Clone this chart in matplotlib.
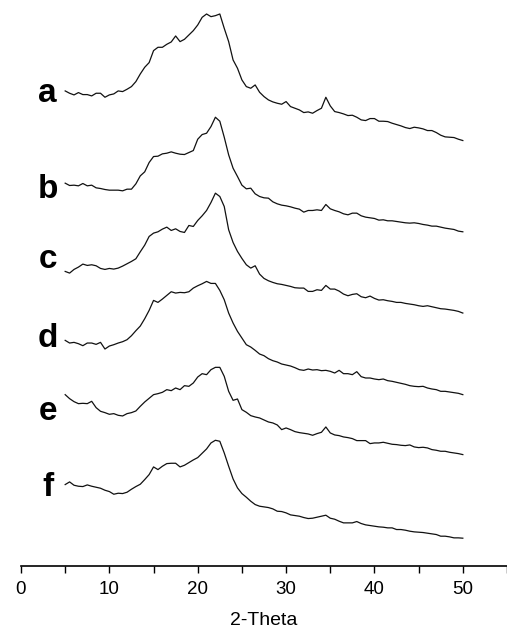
import numpy as np
import matplotlib
matplotlib.use("Agg")
from matplotlib import pyplot as plt

plt.rcParams['font.family'] = ['Liberation Sans', 'DejaVu Sans']

# 2-theta sampling, 5..50 deg every 0.5 deg
two_theta = np.arange(5, 50.01, 0.5)

# intensities (arbitrary units)
int_a = [167, 160, 155, 162, 156, 156, 152, 160, 160, 148,
         155, 158, 167, 165, 172, 180, 195, 218, 238, 252,
         288, 298, 298, 307, 314, 332, 315, 322, 335, 348,
         365, 388, 398, 390, 393, 398, 355, 315, 260, 235,
         200, 180, 175, 185, 163, 150, 140, 134, 130, 127,
         135, 120, 115, 110, 102, 104, 100, 108, 115, 148,
         122, 105, 102, 98, 93, 94, 88, 80, 78, 84,
         84, 76, 76, 75, 70, 66, 62, 57, 54, 58,
         56, 53, 48, 48, 42, 34, 29, 28, 27, 22,
         18]
int_b = [160, 153, 154, 152, 159, 152, 154, 146, 144, 141,
         139, 139, 139, 137, 142, 142, 158, 182, 194, 222,
         240, 241, 248, 250, 254, 250, 247, 246, 252, 258,
         292, 306, 310, 330, 358, 346, 298, 245, 205, 180,
         154, 143, 145, 128, 120, 116, 115, 104, 98, 94,
         92, 89, 85, 82, 73, 78, 78, 80, 78, 96,
         83, 78, 74, 68, 65, 70, 70, 62, 58, 56,
         54, 49, 50, 47, 47, 45, 43, 41, 40, 41,
         39, 36, 34, 31, 31, 28, 25, 23, 21, 16,
         14]
int_c = [145, 140, 151, 158, 167, 163, 165, 162, 154, 151,
         154, 152, 155, 161, 168, 175, 183, 204, 224, 250,
         260, 264, 272, 278, 268, 273, 265, 262, 283, 280,
         298, 312, 328, 352, 380, 370, 340, 270, 232, 205,
         184, 165, 155, 162, 137, 124, 117, 112, 108, 106,
         103, 100, 96, 95, 95, 85, 85, 90, 88, 103,
         92, 92, 86, 77, 72, 76, 78, 69, 66, 71,
         64, 59, 60, 57, 55, 52, 52, 49, 47, 45,
         42, 40, 42, 39, 36, 33, 32, 30, 28, 25,
         20]
int_d = [178, 170, 172, 168, 162, 170, 170, 166, 172, 152,
         161, 165, 170, 174, 180, 192, 207, 221, 243, 268,
         298, 292, 302, 313, 324, 320, 322, 321, 324, 335,
         342, 348, 355, 349, 349, 328, 300, 260, 230, 205,
         185, 165, 158, 148, 137, 132, 123, 117, 113, 107,
         104, 101, 96, 90, 88, 92, 89, 90, 87, 88,
         85, 80, 88, 78, 78, 75, 84, 69, 65, 65,
         62, 60, 62, 57, 55, 52, 49, 46, 42, 40,
         39, 40, 35, 32, 30, 25, 25, 23, 21, 19,
         15]
int_e = [195, 183, 174, 168, 169, 168, 175, 156, 145, 141,
         136, 138, 133, 131, 138, 141, 146, 160, 173, 184,
         195, 198, 202, 210, 207, 215, 210, 222, 220, 230,
         248, 258, 255, 270, 277, 277, 250, 205, 178, 182,
         150, 142, 132, 128, 125, 119, 113, 110, 104, 90,
         95, 90, 84, 81, 79, 77, 73, 78, 82, 98,
         80, 74, 72, 68, 66, 63, 57, 57, 57, 48,
         50, 50, 52, 49, 46, 45, 43, 42, 44, 38,
         36, 37, 35, 30, 28, 25, 25, 22, 20, 18,
         15]
int_f = [175, 183, 173, 170, 169, 174, 170, 167, 164, 158,
         154, 146, 149, 148, 152, 161, 169, 176, 190, 205,
         228, 220, 230, 238, 239, 239, 228, 233, 241, 249,
         256, 269, 282, 300, 308, 305, 270, 230, 192, 165,
         148, 137, 125, 115, 110, 108, 106, 102, 95, 94,
         90, 84, 82, 80, 76, 73, 74, 77, 80, 83,
         74, 71, 65, 60, 60, 60, 64, 58, 54, 52,
         50, 48, 47, 45, 45, 40, 40, 38, 35, 33,
         32, 31, 29, 27, 25, 20, 20, 18, 15, 15,
         14]

labels = ['a', 'b', 'c', 'd', 'e', 'f']
patterns = [int_a, int_b, int_c, int_d, int_e, int_f]
offsets = [1258, 988, 738, 498, 318, 68]
label_y = [1393, 1104, 894, 657, 438, 210]

fig = plt.figure(figsize=(5.07, 6.30), dpi=100)
ax = fig.add_axes([21 / 507, 64.5 / 630, 486 / 507, 565.5 / 630])

for lab, y, off, ly in zip(labels, patterns, offsets, label_y):
    ax.plot(two_theta, np.array(y) + off, color='#111111', lw=0.9)
    ax.text(3.0, ly, lab, fontsize=24, fontweight='bold', ha='center', va='baseline')

ax.set_xlim(0, 55)
ax.set_ylim(0, 1698)
ax.set_xticks(range(0, 51, 10))
ax.set_xticks(range(5, 56, 10), minor=True)
ax.tick_params(axis='x', which='both', direction='out', length=5, width=1, labelsize=13.5, pad=6)
ax.set_yticks([])
for s in ['top', 'right', 'left']:
    ax.spines[s].set_visible(False)
ax.spines['bottom'].set_linewidth(1.2)
ax.set_xlabel('2-Theta', fontsize=14, labelpad=10)

fig.savefig('out.png', dpi=100)
